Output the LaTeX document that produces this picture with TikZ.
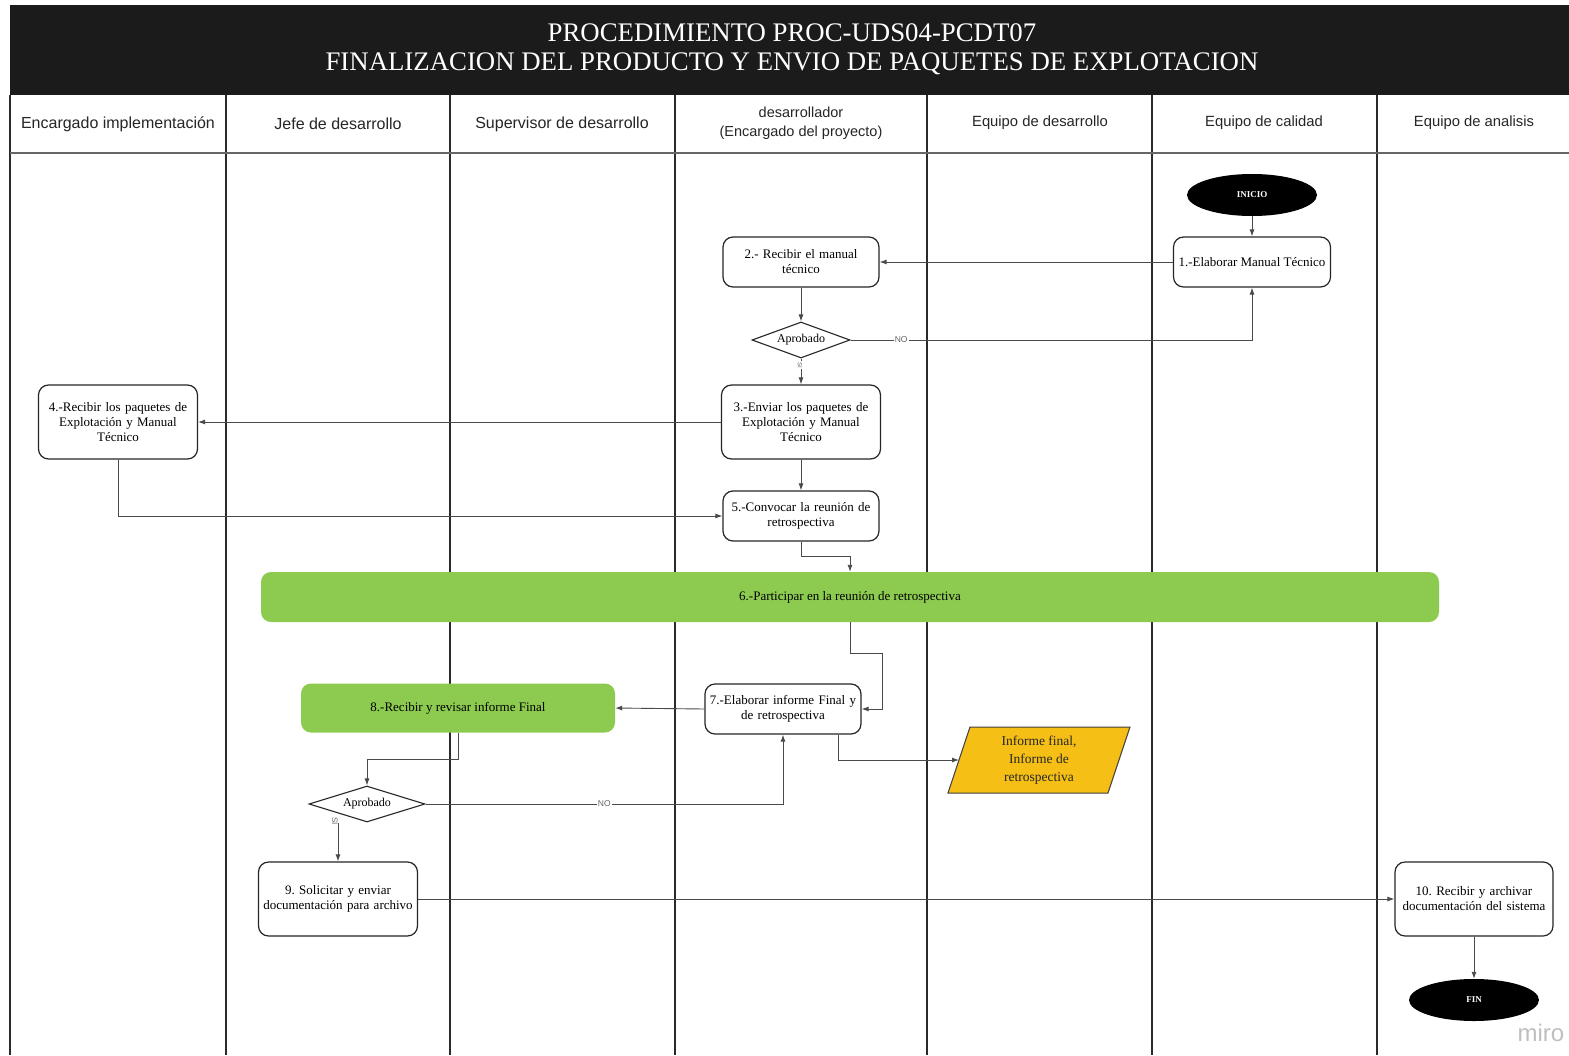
\documentclass[tikz,border=0pt]{standalone}
\usepackage{fontspec}
\setmainfont{Liberation Serif}
\newfontfamily\lanefont{Liberation Sans}
\usetikzlibrary{shapes.geometric,arrows.meta}
\frenchspacing

\definecolor{bannerblack}{HTML}{1B1B1B}
\definecolor{actgreen}{HTML}{8CCB50}
\definecolor{docyellow}{HTML}{F5BF16}
\definecolor{wire}{HTML}{4A4A4A}
\definecolor{laneline}{HTML}{2A2A2A}

\begin{document}
\begin{tikzpicture}[x=1pt,y=-1pt,
  lanehead/.style={font=\lanefont\fontsize{16}{18}\selectfont, text=black!85, align=center},
  proc/.style={draw=black!85, line width=1.2pt, rounded corners=10pt, fill=white,
    align=center, inner sep=0pt, font=\fontsize{13}{15}\selectfont},
  greenact/.style={fill=actgreen, rounded corners=10pt, align=center, inner sep=0pt,
    font=\fontsize{13}{15}\selectfont},
  decision/.style={diamond, draw=black!85, line width=1.1pt, fill=white, aspect=2.7,
    inner sep=0pt, font=\fontsize{12}{14}\selectfont},
  terminal/.style={ellipse, fill=black, text=white, inner sep=0pt,
    minimum width=130, minimum height=42, font=\bfseries\fontsize{9}{10}\selectfont},
  flow/.style={draw=wire, line width=0.9pt, -{Latex[length=7pt,width=5pt]}},
  answer/.style={fill=white, inner sep=1pt, text=black!60,
    font=\lanefont\fontsize{8.5}{10}\selectfont},
]
\useasboundingbox (0,0) rectangle (1569,1055);
\fill[white] (0,0) rectangle (1569,1055);

% banner
\fill[bannerblack] (10,5) rectangle (1569,95);
\node[text=white, font=\fontsize{26.8}{30}\selectfont] (title1) at (792,33) {PROCEDIMIENTO PROC-UDS04-PCDT07};
\node[text=white, font=\fontsize{26.8}{30}\selectfont] (title2) at (792,64) {FINALIZACION DEL PRODUCTO Y ENVIO DE PAQUETES DE EXPLOTACION};

% swimlanes
\foreach \lx in {10,226,450,675,927,1152,1377}
  \draw[laneline, line width=1.8pt] (\lx,95) -- (\lx,1055);
\draw[black!60, line width=2.2pt] (10,153) -- (1569,153);

\node[lanehead] (h1) at (118,124) {Encargado implementación};
\node[lanehead] (h2) at (338,124) {Jefe de desarrollo};
\node[lanehead] (h3) at (562,124) {Supervisor de desarrollo};
\node[lanehead, font=\lanefont\fontsize{14.5}{19}\selectfont] (h4) at (801,123) {desarrollador\\(Encargado del proyecto)};
\node[lanehead, font=\lanefont\fontsize{14.8}{18}\selectfont] (h5) at (1040,123) {Equipo de desarrollo};
\node[lanehead, font=\lanefont\fontsize{14.8}{18}\selectfont] (h6) at (1264,123) {Equipo de calidad};
\node[lanehead, font=\lanefont\fontsize{14.8}{18}\selectfont] (h7) at (1474,123) {Equipo de analisis};

% activities
\node[terminal] (ini) at (1252,195) {INICIO};
\node[proc, minimum width=157, minimum height=50] (n1) at (1252,262) {1.-Elaborar Manual Técnico};
\node[proc, minimum width=156, minimum height=50, text width=150] (n2) at (801,262) {2.- Recibir el manual\\técnico};
\node[decision, minimum width=98, minimum height=36] (d1) at (801,340) {Aprobado};
\node[proc, minimum width=159, minimum height=74, text width=154] (n3) at (801,422) {3.-Enviar los paquetes de\\Explotación y Manual\\Técnico};
\node[proc, minimum width=159, minimum height=74, text width=154] (n4) at (118,422) {4.-Recibir los paquetes de\\Explotación y Manual\\Técnico};
\node[proc, minimum width=156, minimum height=50, text width=152] (n5) at (801,516) {5.-Convocar la reunión de\\retrospectiva};
\node[greenact, minimum width=1178, minimum height=50] (n6) at (850,597) {6.-Participar en la reunión de retrospectiva};
\node[proc, minimum width=156, minimum height=50, text width=154] (n7) at (783,709) {7.-Elaborar informe Final y\\de retrospectiva};
\node[greenact, minimum width=314, minimum height=49] (n8) at (458,708) {8.-Recibir y revisar informe Final};
\node[decision, minimum width=116, minimum height=36] (d2) at (367,804) {Aprobado};
\node[proc, minimum width=159, minimum height=74, text width=158] (n9) at (338,899) {9. Solicitar y enviar\\documentación para archivo};
\node[proc, minimum width=158, minimum height=74, text width=158] (n10) at (1474,899) {10. Recibir y archivar\\documentación del sistema};
\node[terminal] (fin) at (1474,1000) {FIN};

% output document
\filldraw[fill=docyellow, draw=black!75, line width=1pt]
  (970,727) -- (1130,727) -- (1108,793) -- (948,793) -- cycle;
\node[align=center, font=\fontsize{13.5}{18}\selectfont, text=black!85] (doc) at (1039,760)
  {Informe final,\\Informe de\\retrospectiva};
\coordinate (docin) at (959,760);

% connectors
\draw[flow] (ini) -- (n1);
\draw[flow] (n1.west) -- (n2.east);
\draw[flow] (n2) -- (d1);
\draw[flow] (d1.east) -| node[answer, pos=0.063] {NO} (n1.south);
\draw[flow] (d1.south) -- (n3.north);
\node[answer, rotate=-90, font=\lanefont\fontsize{6}{7}\selectfont] (si1) at (800,365) {SI};
\draw[flow] (n3.west) -- (n4.east);
\draw[flow] (n3) -- (n5);
\draw[flow] (n4.south) |- (n5.west);
\draw[flow] (n5.south) -- ++(0,15) -| (n6.north);
\draw[flow] (n6.south) -- ++(0,31) -- ++(32,0) |- (n7.east);
\draw[flow] (n7.west) -- (n8.east);
\draw[flow] ([xshift=55pt]n7.south) |- (docin);
\draw[flow] (n8.south) -- ++(0,27) -| (d2.north);
\draw[flow] (d2.east) -| node[answer, pos=0.25] {NO} (n7.south);
\draw[flow] (d2.south -| n9.north) -- (n9.north);
\node[answer, rotate=-90, fill=none, font=\lanefont\fontsize{8}{9}\selectfont] (si2) at (335,821) {SI};
\draw[flow] (n9.east) -- (n10.west);
\draw[flow] (n10) -- (fin);

% watermark
\node[text=black!25, font=\lanefont\fontsize{24}{26}\selectfont, anchor=west] (wm) at (1514,1033) {miro};
\end{tikzpicture}
\end{document}
